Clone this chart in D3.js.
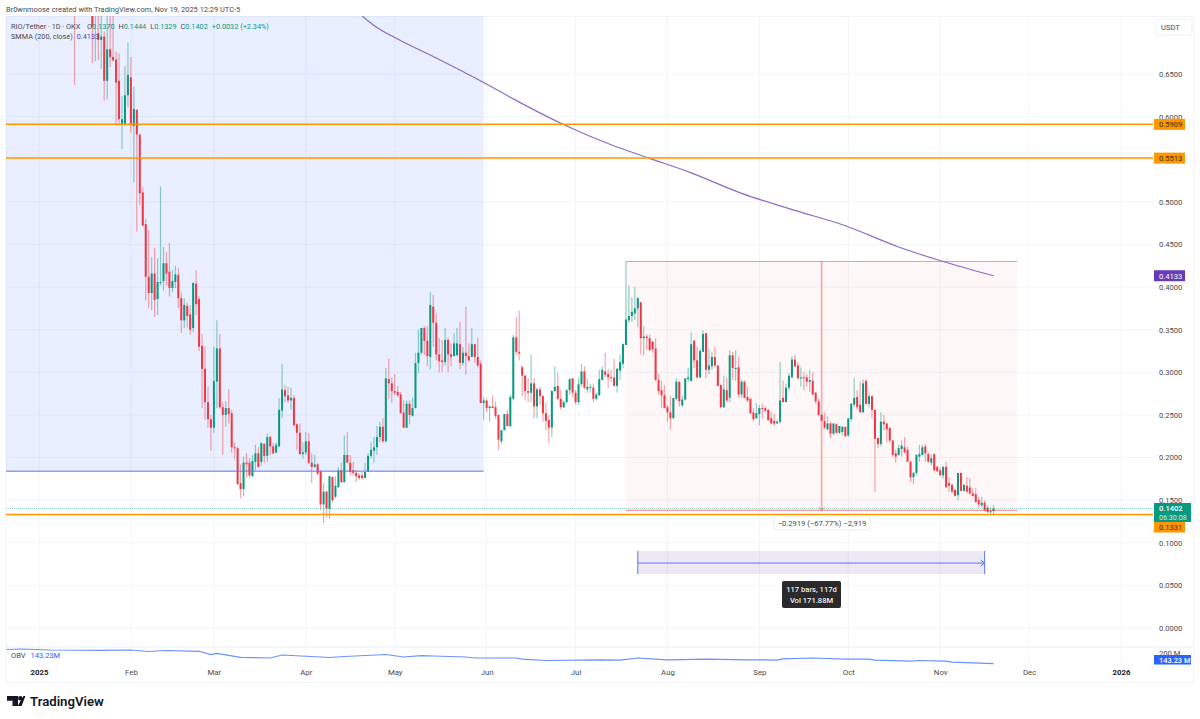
<!DOCTYPE html>
<html>
<head>
<meta charset="utf-8">
<script src="https://cdn.jsdelivr.net/npm/d3@7"></script>
<style>
html, body { margin: 0; padding: 0; background: #fff; }
svg { display: block; }
text { font-family: Roboto, "Liberation Sans", sans-serif; }
</style>
</head>
<body>
<svg id="chart" width="1200" height="719"></svg>
<script>
'use strict';
// first candle shown is 13 Jan 2025, one candle per day
var firstCandle = Date.UTC(2025, 0, 13);

var opens = [
    .76,.74,.76,.78,.76,.75,.75,.73,.698,.690,
    .694,.642,.679,.670,.667,.642,.590,.590,.625,.646,
    .589,.608,.579,.511,.474,.412,.393,.416,.386,.405,
    .407,.428,.418,.399,.406,.414,.387,.361,.378,.368,
    .352,.404,.386,.331,.304,.265,.245,.235,.289,.328,
    .259,.250,.258,.252,.212,.211,.170,.163,.194,.194,
    .178,.195,.205,.195,.216,.202,.224,.213,.206,.213,
    .255,.279,.273,.267,.270,.239,.229,.204,.206,.219,
    .194,.189,.192,.184,.145,.160,.140,.177,.154,.165,
    .185,.171,.203,.194,.185,.182,.179,.179,.176,.183,
    .202,.208,.212,.224,.236,.219,.292,.287,.278,.277,
    .274,.253,.235,.263,.249,.258,.311,.323,.352,.337,
    .318,.377,.358,.321,.314,.312,.338,.321,.319,.320,
    .333,.311,.323,.319,.318,.333,.318,.310,.264,.267,
    .258,.260,.259,.250,.219,.232,.251,.237,.269,.341,
    .324,.306,.296,.278,.276,.287,.260,.280,.272,.252,
    .244,.235,.278,.284,.269,.259,.265,.279,.293,.276,
    .265,.286,.301,.280,.282,.282,.269,.273,.291,.301,
    .298,.294,.294,.284,.302,.310,.332,.361,.366,.369,
    .375,.382,.340,.342,.340,.336,.328,.291,.279,.273,
    .259,.253,.246,.269,.289,.261,.268,.292,.290,.337,
    .314,.294,.324,.346,.303,.307,.318,.308,.285,.259,
    .279,.270,.320,.304,.306,.274,.289,.271,.269,.253,
    .246,.251,.258,.258,.256,.246,.243,.240,.242,.270,
    .265,.282,.294,.315,.308,.293,.294,.294,.289,.290,
    .276,.266,.250,.243,.233,.240,.228,.239,.229,.230,
    .236,.226,.245,.262,.271,.262,.253,.290,.263,.272,
    .256,.223,.216,.242,.240,.235,.220,.205,.203,.210,
    .212,.209,.195,.177,.182,.201,.203,.213,.204,.194,
    .204,.189,.185,.179,.189,.170,.168,.162,.156,.182,
    .161,.167,.165,.158,.157,.150,.144,.147,.141,.136,.1370
];
var highs = [
    .78,.79,.80,.81,.79,.78,.77,.76,.74,.73,
    .70,.73,.73,.73,.676,.674,.624,.659,.687,.670,
    .635,.608,.579,.517,.480,.467,.435,.446,.434,.518,
    .447,.441,.452,.420,.425,.422,.393,.387,.382,.379,
    .405,.420,.389,.345,.330,.283,.250,.330,.361,.345,
    .265,.266,.280,.256,.218,.213,.192,.201,.205,.199,
    .203,.215,.212,.218,.217,.228,.226,.217,.218,.270,
    .310,.285,.283,.282,.273,.240,.240,.218,.230,.229,
    .205,.203,.194,.185,.170,.161,.179,.178,.178,.189,
    .194,.226,.230,.203,.195,.185,.182,.183,.194,.205,
    .218,.224,.237,.242,.246,.305,.316,.294,.298,.284,
    .277,.267,.267,.267,.270,.323,.350,.352,.354,.354,
    .394,.391,.369,.340,.338,.352,.341,.334,.346,.352,
    .359,.330,.377,.334,.352,.333,.340,.314,.271,.269,
    .260,.273,.266,.250,.232,.251,.256,.274,.344,.365,
    .372,.308,.297,.293,.321,.293,.282,.283,.273,.264,
    .250,.279,.307,.300,.279,.267,.280,.293,.293,.279,
    .294,.310,.307,.292,.287,.287,.276,.303,.307,.323,
    .304,.303,.316,.305,.321,.334,.430,.402,.388,.400,
    .388,.383,.354,.345,.344,.336,.340,.298,.290,.285,
    .262,.272,.270,.293,.289,.273,.293,.305,.347,.338,
    .330,.328,.349,.346,.328,.324,.330,.308,.286,.296,
    .294,.326,.324,.326,.318,.291,.290,.283,.270,.258,
    .264,.262,.263,.260,.257,.253,.251,.244,.312,.290,
    .287,.299,.319,.321,.312,.306,.300,.298,.303,.300,
    .277,.269,.251,.253,.248,.242,.240,.240,.237,.237,
    .236,.246,.264,.294,.279,.289,.292,.292,.276,.273,
    .256,.223,.253,.250,.240,.235,.220,.209,.215,.220,
    .224,.213,.197,.183,.204,.215,.215,.216,.206,.204,
    .205,.190,.188,.190,.195,.177,.169,.163,.182,.182,
    .169,.177,.176,.164,.164,.154,.154,.150,.144,.142,.1444
];
var lows = [
    .637,.725,.74,.75,.73,.73,.663,.665,.666,.656,
    .619,.620,.658,.665,.590,.590,.562,.589,.611,.581,
    .523,.465,.496,.472,.384,.375,.373,.365,.367,.402,
    .396,.402,.389,.394,.399,.375,.346,.352,.353,.344,
    .347,.367,.325,.258,.244,.235,.208,.229,.258,.257,
    .203,.236,.240,.206,.199,.167,.152,.155,.176,.176,
    .177,.185,.188,.190,.194,.195,.203,.204,.205,.213,
    .246,.265,.264,.256,.236,.209,.203,.199,.203,.192,
    .170,.188,.179,.138,.123,.130,.128,.147,.152,.165,
    .170,.171,.194,.179,.179,.171,.174,.174,.176,.183,
    .199,.194,.203,.218,.217,.217,.269,.264,.273,.271,
    .252,.235,.234,.239,.248,.258,.299,.321,.320,.307,
    .304,.330,.314,.300,.300,.308,.300,.307,.319,.320,
    .304,.308,.297,.313,.318,.311,.306,.264,.244,.253,
    .242,.258,.245,.209,.216,.232,.236,.235,.267,.320,
    .314,.272,.267,.265,.265,.246,.246,.262,.242,.232,
    .217,.224,.277,.267,.256,.258,.264,.273,.271,.262,
    .262,.283,.280,.276,.276,.265,.267,.273,.291,.294,
    .282,.289,.284,.276,.291,.305,.332,.358,.359,.361,
    .353,.321,.320,.326,.325,.323,.290,.274,.258,.258,
    .242,.233,.246,.267,.260,.260,.267,.289,.289,.305,
    .293,.293,.324,.293,.298,.303,.306,.284,.258,.258,
    .265,.265,.291,.290,.270,.270,.270,.265,.251,.243,
    .246,.238,.246,.253,.243,.239,.237,.240,.240,.265,
    .265,.279,.294,.306,.292,.283,.279,.283,.277,.273,
    .263,.249,.243,.233,.232,.223,.226,.228,.228,.226,
    .224,.224,.242,.259,.256,.253,.253,.262,.259,.246,
    .160,.211,.213,.232,.218,.218,.201,.194,.202,.201,
    .205,.195,.171,.169,.179,.195,.203,.195,.194,.191,
    .184,.183,.179,.175,.165,.160,.158,.154,.150,.160,
    .160,.158,.156,.154,.147,.141,.142,.137,.135,.134,.1329
];
var closes = [
    .74,.76,.78,.76,.75,.76,.705,.74,.690,.694,
    .642,.679,.670,.666,.640,.597,.597,.625,.649,.590,
    .609,.579,.510,.472,.412,.393,.416,.385,.406,.406,
    .428,.416,.399,.407,.415,.387,.361,.379,.366,.350,
    .405,.380,.330,.304,.265,.245,.235,.290,.328,.259,
    .250,.258,.251,.212,.211,.169,.163,.194,.192,.179,
    .196,.205,.189,.217,.202,.224,.213,.205,.215,.256,
    .280,.272,.267,.270,.238,.229,.204,.206,.219,.194,
    .189,.192,.181,.145,.160,.140,.178,.150,.167,.185,
    .171,.203,.194,.183,.182,.178,.176,.176,.183,.202,
    .209,.212,.224,.236,.219,.293,.287,.278,.276,.273,
    .252,.235,.263,.250,.258,.311,.323,.352,.337,.319,
    .379,.358,.321,.313,.312,.338,.321,.318,.334,.334,
    .311,.323,.319,.314,.333,.318,.308,.264,.267,.258,
    .260,.258,.249,.221,.232,.251,.237,.271,.341,.324,
    .322,.296,.278,.276,.287,.260,.280,.272,.252,.243,
    .235,.278,.283,.269,.259,.265,.279,.292,.276,.265,
    .286,.301,.282,.283,.283,.269,.274,.292,.303,.297,
    .294,.293,.284,.304,.312,.333,.362,.366,.371,.375,
    .387,.340,.342,.340,.326,.327,.291,.278,.273,.258,
    .253,.246,.270,.289,.266,.268,.293,.294,.333,.314,
    .294,.325,.345,.303,.308,.318,.308,.284,.259,.280,
    .267,.320,.305,.305,.274,.289,.270,.267,.252,.245,
    .252,.258,.257,.255,.244,.240,.240,.242,.267,.265,
    .282,.296,.315,.307,.293,.294,.293,.289,.291,.274,
    .266,.250,.243,.235,.240,.228,.240,.229,.237,.236,
    .225,.246,.263,.270,.259,.253,.287,.263,.272,.256,
    .222,.216,.242,.239,.233,.220,.203,.201,.211,.214,
    .206,.195,.177,.182,.203,.204,.212,.205,.195,.199,
    .185,.184,.179,.189,.165,.167,.160,.155,.182,.161,
    .168,.160,.158,.155,.148,.145,.147,.138,.136,.137,.1402
];

// SMMA(200): day offset from 1 Jan 2025, value
var smmaDays = [109,113,121,135,150,162,178,193,206,220,237,255,272,290,305,322];
var smmaValues = [.718,.707,.691,.667,.640,.617,.589,.567,.551,.534,.510,.490,.472,.447,.430,.4133];

// OBV in millions: day offset from 1 Jan 2025, value
var obvDays = [-11,-6,4,21,31,37,43,54,58,60,68,78,82,95,98,103,117,123,129,133,144,147,161,163,171,189,196,202,212,225,239,249,251,261,272,280,282,294,297,306,308,322];
var obvValues = [222.5,225.3,219.7,218,219.7,211.2,216.9,212.4,193.3,201,178.6,174.7,191.6,180.3,177.5,183.1,194.4,180.3,188.2,185.9,180.3,174.7,174.7,168.5,160.7,164.6,162.9,174.7,164.6,168.5,164.6,162.9,170.2,174.7,168.5,168.5,162.9,156.7,160.7,156.7,151.1,143.23];

var priceTicks = [0,.05,.1,.15,.2,.25,.3,.35,.4,.45,.5,.55,.6,.65];
var monthTicks = [[2025,0],[2025,1],[2025,2],[2025,3],[2025,4],[2025,5],[2025,6],[2025,7],[2025,8],[2025,9],[2025,10],[2025,11],[2026,0]];
var monthNames = ['2025','Feb','Mar','Apr','May','Jun','Jul','Aug','Sep','Oct','Nov','Dec','2026'];
var horizontalLevels = [.5909,.5513,.1331];

var UP = '#089981', DOWN = '#f23645', ORANGE = '#ff9800', BLUE = '#2962ff', PURPLE = '#673ab7';
var GRID = '#f2f4f9', LABEL = '#4a4a4a';
var plotLeft = 6, plotRight = 1153, plotTop = 16, paneBottom = 647, timeTop = 665, frameRight = 1193, frameBottom = 682;

function day(n) { return new Date(Date.UTC(2025, 0, 1 + n)); }

var x = d3.scaleUtc().domain([day(0), day(365)]).range([39, 1121]);
var y = d3.scaleLinear().domain([0, .65]).range([628, 74]);
var yObv = d3.scaleLinear().domain([143.23, 200]).range([663.6, 653.5]);

var svg = d3.select('#chart');
svg.append('clipPath').attr('id', 'plot').append('rect')
    .attr('x', plotLeft).attr('y', plotTop)
    .attr('width', plotRight - plotLeft).attr('height', paneBottom - plotTop);

var candles = closes.map(function(c, i) {
    return { date: new Date(firstCandle + i * 864e5), o: opens[i], h: highs[i], l: lows[i], c: c };
});

// [ grid ] start
svg.append('g').selectAll('line').data(priceTicks).join('line')
    .attr('x1', plotLeft).attr('x2', plotRight)
    .attr('y1', function(d) { return y(d); }).attr('y2', function(d) { return y(d); })
    .attr('stroke', GRID);
svg.append('g').selectAll('line').data(monthTicks).join('line')
    .attr('x1', function(d) { return x(new Date(Date.UTC(d[0], d[1], 1))); })
    .attr('x2', function(d) { return x(new Date(Date.UTC(d[0], d[1], 1))); })
    .attr('y1', plotTop).attr('y2', timeTop)
    .attr('stroke', GRID);
// frame and pane separators
svg.append('rect').attr('x', plotLeft + .5).attr('y', plotTop + .5)
    .attr('width', frameRight - plotLeft).attr('height', frameBottom - plotTop)
    .attr('fill', 'none').attr('stroke', GRID);
svg.append('line').attr('x1', plotLeft).attr('x2', frameRight)
    .attr('y1', paneBottom).attr('y2', paneBottom).attr('stroke', '#eceef3');
// [ grid ] end

var plot = svg.append('g').attr('clip-path', 'url(#plot)');

// [ shaded drawings ] start
var rangeEnd = x(day(150));
plot.append('rect').attr('x', plotLeft).attr('y', plotTop)
    .attr('width', rangeEnd - plotLeft).attr('height', y(.184) - plotTop)
    .attr('fill', BLUE).attr('fill-opacity', .1);
var measureLeft = x(day(198)), measureRight = x(day(330));
plot.append('rect').attr('x', measureLeft).attr('y', y(.43))
    .attr('width', measureRight - measureLeft).attr('height', y(.1381) - y(.43))
    .attr('fill', DOWN).attr('fill-opacity', .04);
// [ shaded drawings ] end

// [ candles ] start
var candleG = plot.append('g');
candleG.selectAll('line').data(candles).join('line')
    .attr('x1', function(d) { return x(d.date); })
    .attr('x2', function(d) { return x(d.date); })
    .attr('y1', function(d) { return y(d.h); })
    .attr('y2', function(d) { return y(d.l); })
    .attr('stroke', function(d) { return d.c >= d.o ? UP : DOWN; })
    .attr('stroke-width', 1.2)
    .attr('stroke-opacity', .45);
candleG.selectAll('rect').data(candles).join('rect')
    .attr('x', function(d) { return x(d.date) - 1; })
    .attr('width', 2)
    .attr('y', function(d) { return y(Math.max(d.o, d.c)); })
    .attr('height', function(d) { return Math.max(1, Math.abs(y(d.o) - y(d.c))); })
    .attr('fill', function(d) { return d.c >= d.o ? UP : DOWN; });
// [ candles ] end

// [ smma ] start
var smmaLine = d3.line()
    .x(function(d, i) { return x(day(smmaDays[i])); })
    .y(function(d) { return y(d); })
    .curve(d3.curveMonotoneX);
plot.append('path').datum(smmaValues).attr('d', smmaLine)
    .attr('fill', 'none').attr('stroke', PURPLE).attr('stroke-opacity', .75).attr('stroke-width', 1.2);
// [ smma ] end

// [ levels and drawings ] start
plot.append('line').attr('x1', plotLeft).attr('x2', rangeEnd)
    .attr('y1', y(.184)).attr('y2', y(.184))
    .attr('stroke', '#5a78e8').attr('stroke-width', 1);
plot.append('line').attr('x1', plotLeft).attr('x2', plotRight)
    .attr('y1', y(closes[closes.length - 1])).attr('y2', y(closes[closes.length - 1]))
    .attr('stroke', UP).attr('stroke-opacity', .4).attr('stroke-dasharray', '1 1');
plot.selectAll('line.level').data(horizontalLevels).join('line')
    .attr('class', 'level')
    .attr('x1', plotLeft).attr('x2', plotRight)
    .attr('y1', function(d) { return y(d); }).attr('y2', function(d) { return y(d); })
    .attr('stroke', ORANGE).attr('stroke-width', 1.5);

var measureMid = x(day(264));
plot.append('line').attr('x1', measureLeft).attr('x2', measureRight)
    .attr('y1', y(.43)).attr('y2', y(.43)).attr('stroke', DOWN).attr('stroke-opacity', .5).attr('stroke-width', 1.2);
plot.append('line').attr('x1', measureLeft).attr('x2', measureRight)
    .attr('y1', y(.1381)).attr('y2', y(.1381)).attr('stroke', DOWN).attr('stroke-opacity', .5).attr('stroke-width', 1.2);
plot.append('line').attr('x1', measureMid).attr('x2', measureMid)
    .attr('y1', y(.43)).attr('y2', y(.1381)).attr('stroke', DOWN).attr('stroke-opacity', .4).attr('stroke-width', 1.8);
plot.append('path')
    .attr('d', 'M' + (measureMid - 3) + ',' + (y(.1381) - 3) + 'L' + measureMid + ',' + y(.1381) + 'L' + (measureMid + 3) + ',' + (y(.1381) - 3))
    .attr('fill', 'none').attr('stroke', DOWN).attr('stroke-opacity', .6);

// bars range box
var spanLeft = x(day(202)), spanRight = x(day(319.5)), spanTop = y(.0903), spanBottom = y(.0633), spanMid = y(.0762);
plot.append('rect').attr('x', spanLeft).attr('y', spanTop)
    .attr('width', spanRight - spanLeft).attr('height', spanBottom - spanTop)
    .attr('fill', '#673ab7').attr('fill-opacity', .12);
[spanLeft, spanRight].forEach(function(sx) {
    plot.append('line').attr('x1', sx).attr('x2', sx).attr('y1', spanTop).attr('y2', spanBottom)
        .attr('stroke', '#5a78e8').attr('stroke-width', 1);
});
plot.append('line').attr('x1', spanLeft).attr('x2', spanRight).attr('y1', spanMid).attr('y2', spanMid)
    .attr('stroke', '#5a78e8').attr('stroke-width', 1);
plot.append('path')
    .attr('d', 'M' + (spanRight - 4) + ',' + (spanMid - 3) + 'L' + spanRight + ',' + spanMid + 'L' + (spanRight - 4) + ',' + (spanMid + 3))
    .attr('fill', 'none').attr('stroke', '#5a78e8');

// tooltips
svg.append('rect').attr('x', 774).attr('y', 516).attr('width', 96).attr('height', 14).attr('rx', 2)
    .attr('fill', '#fff').attr('stroke', '#e6e8ee').attr('stroke-width', .8);
svg.append('text').attr('x', 822).attr('y', 525.5).attr('text-anchor', 'middle')
    .attr('font-size', 7.6).attr('fill', LABEL).text('\u22120.2919 (\u221267.77%) \u22122,919');

svg.append('rect').attr('x', 782).attr('y', 581).attr('width', 59).attr('height', 27).attr('rx', 2).attr('fill', '#2a2a2c');
svg.append('text').attr('x', 811.5).attr('y', 591.5).attr('text-anchor', 'middle')
    .attr('font-size', 7.6).attr('font-weight', 500).attr('fill', '#f0f0f0').text('117 bars, 117d');
svg.append('text').attr('x', 811.5).attr('y', 603).attr('text-anchor', 'middle')
    .attr('font-size', 7.6).attr('font-weight', 500).attr('fill', '#f0f0f0').text('Vol 171.88M');
// [ levels and drawings ] end

// [ obv pane ] start
var obvLine = d3.line()
    .x(function(d, i) { return x(day(obvDays[i])); })
    .y(function(d) { return yObv(d); });
svg.append('path').datum(obvValues).attr('d', obvLine)
    .attr('fill', 'none').attr('stroke', '#2962ff').attr('stroke-opacity', .7).attr('stroke-width', 1.2);
// [ obv pane ] end

// [ axes ] start
var yAxis = d3.axisRight(y).tickValues(priceTicks).tickFormat(d3.format('.4f')).tickSize(0).tickPadding(6);
var yAxisG = svg.append('g').attr('transform', 'translate(' + plotRight + ',0)').call(yAxis);
yAxisG.select('.domain').remove();
yAxisG.selectAll('text').attr('font-size', 7.6).attr('fill', LABEL).attr('font-family', 'Roboto');

var xAxis = d3.axisBottom(x)
    .tickValues(monthTicks.map(function(d) { return new Date(Date.UTC(d[0], d[1], 1)); }))
    .tickFormat(function(d, i) { return monthNames[i]; })
    .tickSize(0).tickPadding(4);
var xAxisG = svg.append('g').attr('transform', 'translate(0,' + timeTop + ')').call(xAxis);
xAxisG.select('.domain').remove();
xAxisG.selectAll('text').attr('font-size', 7.8).attr('fill', LABEL).attr('font-family', 'Roboto')
    .attr('font-weight', function(d, i) { return (i === 0 || i === 12) ? 700 : 400; })
    .attr('fill', function(d, i) { return (i === 0 || i === 12) ? '#222' : LABEL; });

svg.append('text').attr('x', 1159).attr('y', 656).attr('font-size', 7.6).attr('fill', LABEL).text('200 M');

svg.append('rect').attr('x', 1156).attr('y', 19).attr('width', 36).attr('height', 16).attr('rx', 3)
    .attr('fill', '#fff').attr('stroke', '#eef0f5');
svg.append('text').attr('x', 1161).attr('y', 30).attr('font-size', 7.6).attr('fill', LABEL).text('USDT');
// [ axes ] end

// [ price chips ] start
function chip(value, cy, bg, fg, w) {
    svg.append('rect').attr('x', 1154).attr('y', cy - 5.5).attr('width', w).attr('height', 11).attr('fill', bg);
    svg.append('text').attr('x', 1159).attr('y', cy + 2.8).attr('font-size', 7.6).attr('fill', fg).text(value);
}
chip('0.5909', y(.5909), ORANGE, '#3a2a00', 31);
chip('0.5513', y(.5513), ORANGE, '#3a2a00', 31);
chip('0.4133', y(.4133), PURPLE, '#fff', 31);
chip('0.1331', 527, ORANGE, '#3a2a00', 31);
svg.append('rect').attr('x', 1154).attr('y', 503).attr('width', 37).attr('height', 19).attr('fill', UP);
svg.append('text').attr('x', 1159).attr('y', 511).attr('font-size', 7.6).attr('font-weight', 500).attr('fill', '#fff').text('0.1402');
svg.append('text').attr('x', 1159).attr('y', 519.5).attr('font-size', 7.2).attr('fill', '#c9ece5').text('06:30:08');
svg.append('rect').attr('x', 1154).attr('y', 655).attr('width', 37).attr('height', 9.5).attr('fill', BLUE);
svg.append('text').attr('x', 1159).attr('y', 662.6).attr('font-size', 7.4).attr('font-weight', 500).attr('fill', '#fff').text('143.23 M');
// [ price chips ] end

// [ header and legends ] start
svg.append('text').attr('x', 6).attr('y', 12).attr('font-size', 7.45).attr('fill', LABEL)
    .text('Br0wnmoose created with TradingView.com, Nov 19, 2025 12:29 UTC-5');

var legend = svg.append('text').attr('x', 11).attr('y', 29).attr('font-size', 7.3).attr('fill', LABEL);
legend.append('tspan').text('RIO/Tether \u00b7 1D \u00b7 OKX  ');
[['O', '0.1370'], ['H', '0.1444'], ['L', '0.1329'], ['C', '0.1402']].forEach(function(p, i) {
    legend.append('tspan').attr('dx', i === 0 ? 5 : 4).text(p[0]);
    legend.append('tspan').attr('fill', UP).text(p[1]);
});
legend.append('tspan').attr('dx', 4).attr('fill', UP).text('+0.0032 (+2.34%)');

var smmaLegend = svg.append('text').attr('x', 11).attr('y', 39).attr('font-size', 7.3).attr('fill', LABEL);
smmaLegend.append('tspan').text('SMMA (200, close)');
smmaLegend.append('tspan').attr('dx', 4).attr('fill', PURPLE).text('0.4133');

var obvLegend = svg.append('text').attr('x', 11).attr('y', 658).attr('font-size', 7.5).attr('fill', LABEL);
obvLegend.append('tspan').text('OBV');
obvLegend.append('tspan').attr('dx', 5).attr('fill', BLUE).text('143.23M');
// [ header and legends ] end

// [ logo ] start
svg.append('path').attr('d', 'M7,696h11v10h-5.5v-5.2H7zM23.5,696H25.4L21.6,706H17.8L21.8,698.5z').attr('fill', '#131722');
svg.append('circle').attr('cx', 20.3).attr('cy', 698.3).attr('r', 2.2).attr('fill', '#131722');
svg.append('text').attr('x', 30).attr('y', 706).attr('font-size', 13.2).attr('font-weight', 600).attr('fill', '#131722')
    .attr('font-family', 'Inter, Roboto').text('TradingView');
// [ logo ] end
</script>
</body>
</html>
